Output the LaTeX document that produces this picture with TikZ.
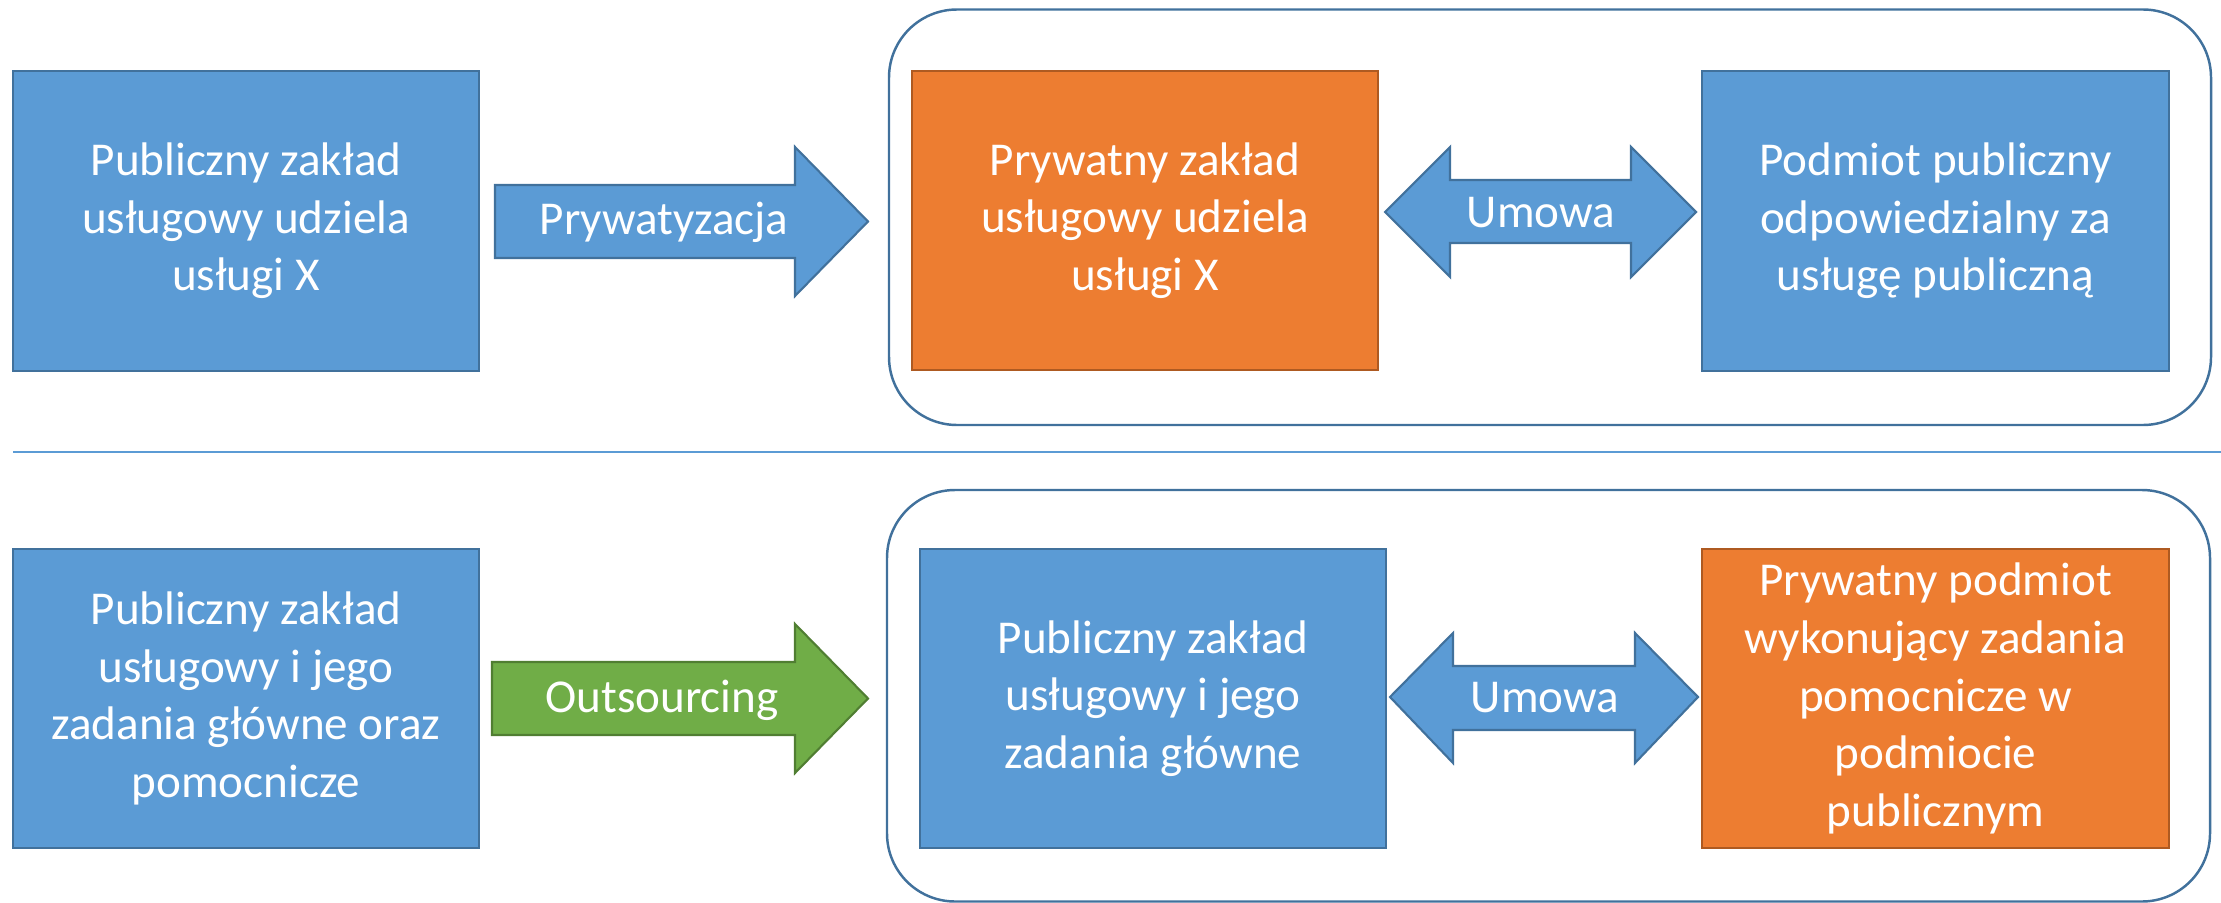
\documentclass[tikz,border=0pt]{standalone}
\usepackage{fontspec}
\setmainfont{Carlito}
\definecolor{bfill}{HTML}{5B9BD5}
\definecolor{bdraw}{HTML}{41719C}
\definecolor{ofill}{HTML}{ED7D31}
\definecolor{odraw}{HTML}{AE5A21}
\definecolor{gfill}{HTML}{70AD47}
\definecolor{gdraw}{HTML}{507E32}
\definecolor{sepline}{HTML}{5B9BD5}
\tikzset{
  txt/.style={text=white, font=\fontsize{13.4pt}{16.4pt}\selectfont, align=center, inner sep=0pt},
  boxb/.style={txt, draw=bdraw, fill=bfill, line width=0.6pt, minimum width=4.66cm, minimum height=2.99cm},
  boxo/.style={txt, draw=odraw, fill=ofill, line width=0.6pt, minimum width=4.66cm, minimum height=2.99cm},
  arrb/.style={draw=bdraw, fill=bfill, line width=0.6pt, line join=miter},
  arrg/.style={draw=gdraw, fill=gfill, line width=0.6pt, line join=miter},
  frame/.style={draw=bdraw, line width=0.7pt, rounded corners=0.68cm},
  sep/.style={draw=sepline, line width=0.45pt}
}
\begin{document}
\begin{tikzpicture}[x=0.01cm,y=-0.01cm]
\useasboundingbox (0,0) rectangle (2221,903);
% frames
\draw[frame] (889,9.5) rectangle (2211,425);
\draw[frame] (887,490) rectangle (2210,901.5);
% separator
\draw[sep] (13,452) -- (2221,452);
% top row
\node[boxb] (b1) at (246,221) {Publiczny zakład\\usługowy udziela\\usługi X};
\node[boxo] (b2) at (1145,220.5) {Prywatny zakład\\usługowy udziela\\usługi X};
\node[boxb] (b3) at (1935.5,221) {Podmiot publiczny\\odpowiedzialny za\\usługę publiczną};
% privatisation arrow
\draw[arrb] (495,185) -- (795,185) -- (795,147) -- (868,221.5) -- (795,296) -- (795,258) -- (495,258) -- cycle;
\node[txt] (l1) at (664,222) {Prywatyzacja};
% double arrow top
\draw[arrb] (1385,212) -- (1450,147) -- (1450,180) -- (1631,180) -- (1631,147) -- (1696,212) -- (1631,277) -- (1631,243) -- (1450,243) -- (1450,277) -- cycle;
\node[txt] (l2) at (1541,213) {Umowa};
% bottom row
\node[boxb] (b4) at (246,698.5) {Publiczny zakład\\usługowy i jego\\zadania główne oraz\\pomocnicze};
\node[boxb] (b5) at (1153,698.5) {Publiczny zakład\\usługowy i jego\\zadania główne};
\node[boxo] (b6) at (1935.5,698.5) {Prywatny podmiot\\wykonujący zadania\\pomocnicze w\\podmiocie\\publicznym};
% outsourcing arrow
\draw[arrg] (492,662) -- (795,662) -- (795,624) -- (868,698.5) -- (795,773) -- (795,735) -- (492,735) -- cycle;
\node[txt] (l3) at (662,700) {Outsourcing};
% double arrow bottom
\draw[arrb] (1390,697) -- (1453,633) -- (1453,666) -- (1635,666) -- (1635,633) -- (1698,697) -- (1635,763) -- (1635,730) -- (1453,730) -- (1453,763) -- cycle;
\node[txt] (l4) at (1545,698) {Umowa};
\end{tikzpicture}
\end{document}
